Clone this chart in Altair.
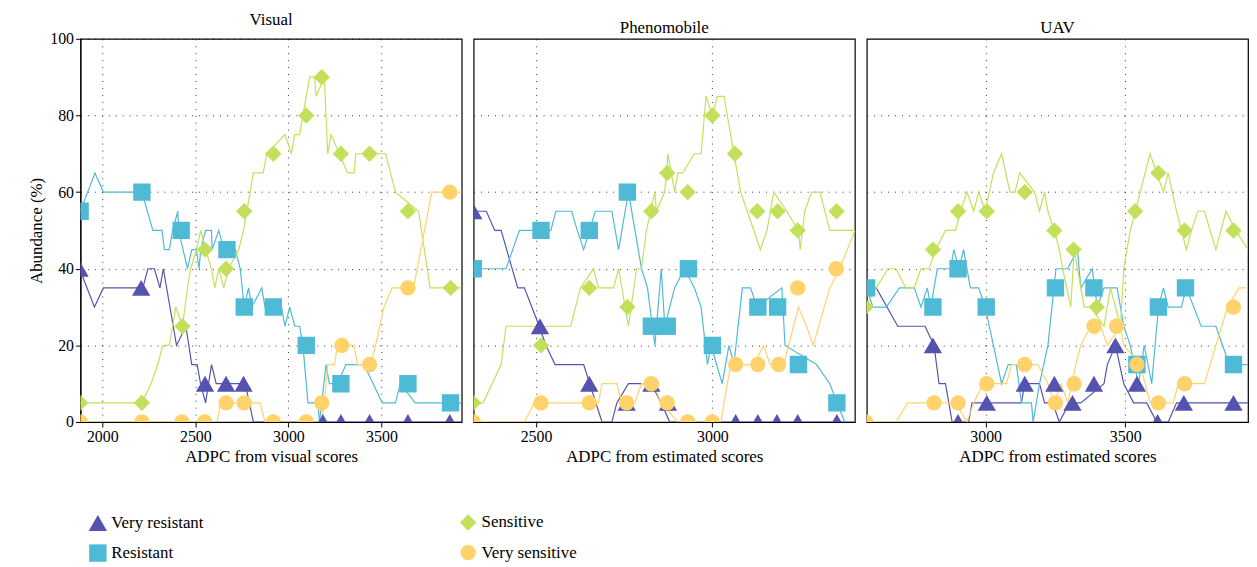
import altair as alt
import pandas as pd

series = ["Very resistant", "Resistant", "Sensitive", "Very sensitive"]
colors = ["#5553b0", "#4fbad6", "#c2e05a", "#ffd26b"]
shapes = ["triangle-up", "square", "diamond", "circle"]
marker_sizes = [340, 240, 500, 270]

# ---- Visual panel ----
vis_vr_line = [(1878, 40), (1958, 30), (2006, 35), (2218, 35), (2245, 40), (2280, 40), (2310, 35), (2328, 40),
               (2399, 20), (2449, 25), (2481, 15), (2510, 15), (2528, 10), (2555, 5), (2587, 15), (2612, 10),
               (2768, 10), (2812, 0), (3931, 0)]
vis_vr_pts = [(1878, 40), (2209, 35), (2552, 10), (2665, 10), (2759, 10), (2922, 0), (3096, 0), (3185, 0),
              (3282, 0), (3436, 0), (3642, 0), (3867, 0)]
vis_r_line = [(1881, 55), (1961, 65), (2006, 60), (2213, 60), (2272, 50), (2321, 50), (2334, 45), (2360, 45),
              (2378, 50), (2406, 55), (2410, 50), (2458, 40), (2481, 45), (2506, 45), (2520, 40), (2529, 45),
              (2555, 50), (2587, 50), (2590, 45), (2626, 50), (2653, 45), (2715, 45), (2741, 40), (2763, 30),
              (2786, 35), (2803, 30), (2857, 35), (2874, 30), (2963, 30), (2981, 25), (3007, 30), (3034, 25),
              (3060, 25), (3078, 20), (3105, 5), (3158, 5), (3167, 0), (3202, 15), (3220, 10), (3264, 10),
              (3309, 15), (3406, 15), (3504, 5), (3575, 5), (3601, 10), (3681, 5), (3929, 5)]
vis_r_pts = [(1881, 55), (2213, 60), (2424, 50), (2670, 45), (2763, 30), (2919, 30), (3096, 20), (3282, 10),
             (3642, 10), (3871, 5)]
vis_s_line = [(1881, 5), (2213, 5), (2262, 10), (2298, 15), (2325, 20), (2360, 20), (2378, 25), (2395, 30),
              (2431, 25), (2458, 35), (2475, 40), (2506, 45), (2529, 50), (2555, 45), (2587, 40), (2605, 35),
              (2626, 40), (2653, 35), (2679, 40), (2733, 45), (2759, 50), (2812, 65), (2865, 65), (2883, 70),
              (2981, 75), (3016, 70), (3034, 75), (3060, 75), (3114, 90), (3140, 90), (3149, 85), (3193, 90),
              (3211, 70), (3229, 75), (3318, 65), (3353, 65), (3362, 70), (3522, 70), (3575, 60), (3699, 55),
              (3761, 35), (3931, 35)]
vis_s_pts = [(1881, 5), (2213, 5), (2431, 25), (2552, 45), (2665, 40), (2763, 55), (2919, 70), (3096, 80),
             (3179, 90), (3282, 70), (3436, 70), (3642, 55), (3872, 35)]
vis_vs_line = [(1881, 0), (2617, 0), (2635, 5), (2848, 5), (2874, 0), (3176, 0), (3193, 5), (3211, 15),
               (3247, 15), (3264, 20), (3353, 20), (3371, 15), (3442, 15), (3468, 20), (3513, 30), (3557, 35),
               (3672, 35), (3770, 60), (3931, 60)]
vis_vs_pts = [(1881, 0), (2213, 0), (2428, 0), (2550, 0), (2665, 5), (2763, 5), (2919, 0), (3096, 0),
              (3179, 5), (3287, 20), (3436, 15), (3642, 35), (3867, 60)]

# ---- Phenomobile panel ----
phe_vr_line = [(2322, 55), (2359, 55), (2383, 50), (2401, 50), (2448, 35), (2467, 35), (2509, 25), (2528, 20),
               (2554, 15), (2635, 15), (2687, 0), (2715, 0), (2729, 5), (2762, 10), (2827, 10), (2855, 5),
               (2879, 0), (3404, 0)]
phe_vr_pts = [(2322, 55), (2511, 25), (2651, 10), (2757, 5), (2827, 10), (2874, 5), (2930, 0), (3000, 0),
              (3066, 0), (3129, 0), (3183, 0), (3242, 0), (3353, 0)]
phe_r_line = [(2322, 40), (2415, 40), (2453, 50), (2542, 50), (2556, 55), (2601, 55), (2617, 50), (2635, 45),
              (2668, 55), (2715, 55), (2734, 45), (2762, 60), (2799, 40), (2816, 35), (2837, 20), (2855, 40),
              (2865, 25), (2893, 35), (2921, 40), (2949, 35), (2968, 30), (2986, 15), (2996, 20), (3028, 10),
              (3047, 20), (3061, 15), (3085, 35), (3108, 35), (3127, 30), (3197, 35), (3206, 20), (3295, 15),
              (3333, 10), (3375, 0), (3404, 0)]
phe_r_pts = [(2322, 40), (2514, 50), (2651, 50), (2759, 60), (2827, 25), (2872, 25), (2932, 40), (3000, 20),
             (3129, 30), (3185, 30), (3244, 15), (3353, 5)]
phe_s_line = [(2322, 5), (2350, 5), (2401, 15), (2415, 25), (2486, 25), (2523, 25), (2598, 25), (2612, 30),
              (2626, 35), (2663, 40), (2677, 35), (2720, 35), (2734, 40), (2762, 25), (2785, 40), (2799, 40),
              (2813, 50), (2837, 60), (2841, 55), (2865, 60), (2874, 70), (2893, 60), (2902, 65), (2916, 65),
              (2949, 70), (2968, 70), (2982, 85), (3000, 80), (3014, 85), (3033, 85), (3080, 60), (3099, 55),
              (3136, 45), (3155, 50), (3174, 60), (3211, 55), (3244, 50), (3249, 45), (3262, 55), (3281, 60),
              (3305, 60), (3333, 50), (3404, 50)]
phe_s_pts = [(2322, 5), (2514, 20), (2651, 35), (2759, 30), (2827, 55), (2872, 65), (2930, 60), (3000, 80),
             (3064, 70), (3127, 55), (3185, 55), (3242, 50), (3352, 55)]
phe_vs_line = [(2322, 0), (2467, 0), (2495, 5), (2677, 5), (2687, 10), (2729, 10), (2743, 5), (2780, 5),
               (2799, 10), (2832, 10), (2855, 5), (2902, 0), (3024, 0), (3033, 5), (3052, 15), (3117, 15),
               (3145, 20), (3164, 15), (3202, 15), (3230, 25), (3244, 30), (3267, 25), (3286, 20), (3333, 35),
               (3361, 40), (3404, 50)]
phe_vs_pts = [(2322, 0), (2514, 5), (2651, 5), (2757, 5), (2827, 10), (2872, 5), (2930, 0), (3000, 0),
              (3066, 15), (3129, 15), (3188, 15), (3242, 35), (3351, 40)]

# ---- UAV panel ----
uav_vr_line = [(2570, 35), (2608, 35), (2685, 25), (2783, 25), (2815, 20), (2833, 10), (2856, 10), (2880, 0),
               (2939, 0), (2951, 5), (3128, 5), (3140, 10), (3193, 10), (3211, 5), (3240, 5), (3264, 0),
               (3300, 5), (3341, 5), (3424, 10), (3436, 15), (3465, 20), (3495, 10), (3530, 5), (3577, 5),
               (3613, 0), (3654, 0), (3684, 5), (3940, 5)]
uav_vr_pts = [(2570, 35), (2811, 20), (2901, 0), (3004, 5), (3140, 10), (3246, 10), (3311, 5), (3388, 10),
              (3465, 20), (3542, 10), (3616, 0), (3710, 5), (3888, 5)]
uav_r_line = [(2573, 35), (2596, 30), (2644, 30), (2691, 35), (2744, 35), (2768, 30), (2791, 35), (2803, 30),
              (2827, 40), (2874, 40), (2886, 45), (2904, 40), (2921, 45), (2945, 35), (2975, 35), (2998, 30),
              (3028, 20), (3057, 10), (3081, 15), (3110, 15), (3128, 5), (3164, 5), (3170, 0), (3193, 10),
              (3223, 20), (3252, 40), (3294, 40), (3329, 45), (3341, 35), (3382, 40), (3400, 30), (3424, 35),
              (3471, 35), (3483, 30), (3495, 25), (3518, 20), (3548, 10), (3568, 20), (3595, 10), (3619, 30),
              (3637, 35), (3654, 30), (3701, 30), (3719, 35), (3772, 25), (3825, 25), (3873, 15), (3940, 15)]
uav_r_pts = [(2573, 35), (2811, 30), (2901, 40), (3002, 30), (3250, 35), (3388, 35), (3542, 15), (3619, 30),
             (3716, 35), (3888, 15)]
uav_s_line = [(2570, 30), (2608, 35), (2650, 40), (2679, 40), (2714, 35), (2744, 35), (2768, 40), (2797, 40),
              (2821, 45), (2856, 50), (2892, 50), (2910, 55), (2933, 60), (2957, 55), (2975, 60), (2998, 55),
              (3028, 65), (3057, 70), (3087, 60), (3105, 60), (3122, 65), (3175, 60), (3193, 55), (3211, 60),
              (3223, 55), (3246, 50), (3264, 45), (3276, 40), (3305, 30), (3317, 45), (3341, 35), (3353, 30),
              (3376, 30), (3424, 25), (3447, 35), (3483, 25), (3495, 40), (3518, 50), (3554, 60), (3589, 70),
              (3613, 65), (3637, 60), (3654, 65), (3684, 55), (3719, 45), (3737, 50), (3760, 55), (3784, 55),
              (3825, 45), (3861, 55), (3896, 50), (3940, 45)]
uav_s_pts = [(2570, 30), (2811, 45), (2901, 55), (3004, 55), (3140, 60), (3246, 50), (3315, 45), (3398, 30),
             (3536, 55), (3619, 65), (3713, 50), (3888, 50)]
uav_vs_line = [(2570, 0), (2679, 0), (2720, 5), (2892, 5), (2933, 0), (2957, 5), (2992, 10), (3075, 10),
               (3093, 15), (3187, 15), (3223, 10), (3246, 5), (3270, 10), (3294, 5), (3323, 15), (3341, 20),
               (3376, 25), (3412, 25), (3436, 20), (3483, 25), (3495, 20), (3554, 15), (3589, 5), (3672, 5),
               (3690, 10), (3784, 10), (3825, 20), (3867, 30), (3908, 35), (3940, 35)]
uav_vs_pts = [(2570, 0), (2815, 5), (2901, 5), (3004, 10), (3140, 15), (3250, 5), (3317, 10), (3388, 25),
              (3469, 25), (3542, 15), (3619, 5), (3713, 10), (3888, 30)]

panels = [
    ("Visual", "ADPC from visual scores", [1883, 3931], [2000, 2500, 3000, 3500],
     [(vis_vr_line, vis_vr_pts), (vis_r_line, vis_r_pts), (vis_s_line, vis_s_pts), (vis_vs_line, vis_vs_pts)]),
    ("Phenomobile", "ADPC from estimated scores", [2323, 3404], [2500, 3000],
     [(phe_vr_line, phe_vr_pts), (phe_r_line, phe_r_pts), (phe_s_line, phe_s_pts), (phe_vs_line, phe_vs_pts)]),
    ("UAV", "ADPC from estimated scores", [2574, 3940], [3000, 3500],
     [(uav_vr_line, uav_vr_pts), (uav_r_line, uav_r_pts), (uav_s_line, uav_s_pts), (uav_vs_line, uav_vs_pts)]),
]

color_scale = alt.Scale(domain=series, range=colors)
shape_scale = alt.Scale(domain=series, range=shapes)
size_scale = alt.Scale(domain=series, range=marker_sizes)


def make_legend():
    return alt.Legend(title=None, orient="none", legendX=8, legendY=478, columns=2,
                      columnPadding=256, rowPadding=12, symbolSize=220, labelFontSize=17,
                      symbolStrokeWidth=0, values=series)


charts = []
for i, (title, xtitle, dom, ticks, data) in enumerate(panels):
    lines, pts = [], []
    for k, (ln, pt) in enumerate(data):
        for j, (x, y) in enumerate(ln):
            lines.append({"x": x, "y": y, "s": series[k], "o": j})
        for x, y in pt:
            pts.append({"x": x, "y": y, "s": series[k]})
    xenc = alt.X("x:Q", title=xtitle, scale=alt.Scale(domain=dom, nice=False, zero=False),
                 axis=alt.Axis(values=ticks, format="d", gridDash=[1, 6], gridColor="#000",
                               gridOpacity=0.8, tickColor="#000", tickSize=5))
    if i == 0:
        yaxis = alt.Axis(values=[0, 20, 40, 60, 80, 100], gridDash=[1, 6], gridColor="#000",
                         gridOpacity=0.8, tickColor="#000", title="Abundance (%)")
    else:
        yaxis = alt.Axis(values=[20, 40, 60, 80], gridDash=[1, 6], gridColor="#000", gridOpacity=0.8,
                         labels=False, ticks=False, domain=False, title=None)
    yenc = alt.Y("y:Q", scale=alt.Scale(domain=[0, 100], nice=False), axis=yaxis)
    leg = make_legend() if i == 0 else None
    line = alt.Chart(pd.DataFrame(lines)).mark_line(strokeWidth=1.2, clip=True).encode(
        x=xenc, y=yenc, order="o:Q",
        color=alt.Color("s:N", scale=color_scale, legend=leg),
        detail="s:N",
    )
    point = alt.Chart(pd.DataFrame(pts)).mark_point(filled=True, opacity=1, clip=True).encode(
        x="x:Q", y="y:Q",
        color=alt.Color("s:N", scale=color_scale, legend=leg),
        shape=alt.Shape("s:N", scale=shape_scale, legend=leg),
        size=alt.Size("s:N", scale=size_scale, legend=None),
    )
    charts.append(alt.layer(line, point).properties(width=384, height=386, title=title))

chart = alt.hconcat(*charts, spacing=10).resolve_scale(x="independent").properties(
    padding={"left": 19, "top": 0, "right": 0, "bottom": 5}
).configure_view(
    stroke="#000", strokeWidth=1.2
).configure_axis(
    labelFont="Liberation Serif", titleFont="Liberation Serif", labelFontSize=16, titleFontSize=17,
    titleFontWeight="normal", labelColor="#000", titleColor="#000", domainColor="#000"
).configure_title(
    font="Liberation Serif", fontSize=17, fontWeight="normal", offset=2
).configure_legend(
    labelFont="Liberation Serif", labelColor="#000"
).configure_concat(spacing=10)

chart.save("out.html", embed_options={"renderer": "svg", "actions": False})
